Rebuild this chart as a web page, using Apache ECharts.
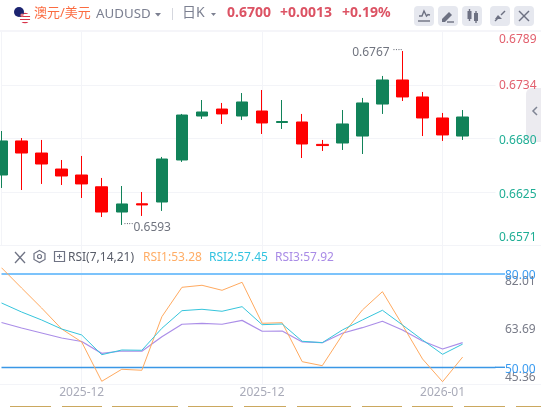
<!DOCTYPE html>
<html><head><meta charset="utf-8">
<style>html,body{margin:0;padding:0;background:#fff}#c{width:541px;height:407px}</style>
<script src="https://cdn.jsdelivr.net/npm/echarts@6/dist/echarts.min.js"></script>
</head><body><div id="c"></div>
<script>
// [open, close, low, high]
const candles = [
 [.66423,.66770,.66291,.66871],[.66770,.66647,.66270,.66800],[.66647,.66535,.66332,.66780],[.66484,.66413,.66321,.66576],
 [.66423,.66332,.66189,.66617],[.66303,.66046,.65995,.66393],[.66046,.66128,.65914,.66311],[.66130,.66118,.66006,.66250],
 [.66148,.66586,.66057,.66607],[.66576,.67034,.66556,.67045],[.67024,.67065,.66994,.67187],[.67095,.67045,.66943,.67157],
 [.67024,.67167,.66983,.67258],[.67075,.66953,.66841,.67289],[.66958,.66968,.66892,.67187],[.66963,.66739,.66596,.67045],
 [.66735,.66723,.66668,.66780],[.66749,.66943,.66678,.67085],[.66820,.67157,.66637,.67208],[.67146,.67391,.67045,.67432],
 [.67391,.67218,.67177,.67686],[.67218,.67004,.66820,.67269],[.67004,.66831,.66770,.67055],[.66820,.67014,.66780,.67085]
];
const rsi1 = [82.01,75.50,69.07,62.32,58.14,45.50,49.36,49.04,66.27,75.72,76.37,74.76,77.33,64.15,64.34,51.80,50.51,60.39,68.42,74.31,63.60,52.67,45.36,53.28];
const rsi2 = [70.68,67.78,65.21,62.32,60.39,54.05,55.56,55.47,62.54,68.20,68.65,68.01,69.49,63.70,63.92,58.36,57.91,61.99,65.21,68.33,63.60,58.78,54.18,57.45];
const rsi3 = [64.41,62.64,61.03,59.42,58.30,54.47,55.24,55.15,59.84,63.83,64.15,63.83,65.09,61.58,61.67,58.14,57.91,60.93,62.73,64.79,61.99,58.46,55.88,57.92];
const dateTickIndex = [4,13,22];
const dateTickLabels = ['2025-12','2025-12','2026-01'];
const priceTicks = [0.6571,0.6625,0.6680,0.6734,0.6789];
const rsiTicks = [45.36,63.69,82.01];
const rsiBands = [50,80];
const lastPrice = 0.6700;
const highIndex = 20, lowIndex = 6;
const highText = '0.6767', lowText = '0.6593';

const FONT = '"Noto Sans","Noto Sans CJK SC",sans-serif';
const withIndex = (arr)=>arr.map((v,i)=>Array.isArray(v)?[i,...v]:[i,v]);
const GRID = '#f3f4f8';
const RED = '#e2606e', GREEN = '#1fae95';
const xBase = {type:'value',min:0,max:24.64,axisLine:{show:false},
  axisTick:{show:false,customValues:dateTickIndex},
  splitLine:{show:true,lineStyle:{color:GRID,width:1}}};
const priceRich = {
  top:{color:RED,fontSize:12,fontFamily:FONT,padding:[3,0,0,0]},
  up:{color:RED,fontSize:12,fontFamily:FONT,padding:[2,0,0,0]},
  dn:{color:GREEN,fontSize:12,fontFamily:FONT,padding:[6,0,0,0]},
  low:{color:GREEN,fontSize:12,fontFamily:FONT,padding:[0,0,1,0]}
};
const priceStyle = (v,i)=> i===0?'low': i===priceTicks.length-1?'top': v>lastPrice?'up':'dn';
const rsiRich = {g:{color:'#787b88',fontSize:12,fontFamily:FONT,padding:[3,0,0,0]},b:{color:'#3a9bf0',fontSize:12,fontFamily:FONT,padding:[4,0,0,0]}};

const chart = echarts.init(document.getElementById('c'),null,{renderer:'canvas'});
const T=(x,y,text,fill,font,align)=>({type:'text',z:20,style:{x,y,text,fill,font:font+' '+FONT,textAlign:align||'left',textVerticalAlign:'middle'}});
const btn=(x)=>({type:'rect',z:20,shape:{x,y:6,width:20,height:20,r:4},style:{fill:'#e6e8ef'}});
const L=(pts,stroke,w)=>({type:'polyline',z:21,shape:{points:pts},style:{stroke:stroke||'#6d7182',lineWidth:w||1.4,fill:null}});
const F=(pts,fill)=>({type:'polygon',z:21,shape:{points:pts},style:{fill:fill||'#6d7182'}});
const stripes=[];for(let i=0;i<7;i++){const c=i%2?'#fff':'#d8344a';stripes.push({offset:i/7,color:c},{offset:(i+1)/7,color:c});}
const dashes=[[10,51],[62,102],[112,178],[188,233],[244,286],[297,351],[362,402],[412,453],[464,505],[516,541]];

chart.setOption({
  animation:false,backgroundColor:'#fff',textStyle:{fontFamily:FONT},
  grid:[{left:1.5,width:494,top:31,height:214},{left:1.5,width:494,top:245,height:139.3}],
  xAxis:[{...xBase,gridIndex:0,axisLabel:{show:false,customValues:dateTickIndex}},
         {...xBase,gridIndex:1,axisLabel:{show:true,customValues:dateTickIndex,color:'#a9abb9',fontSize:12,margin:2,fontFamily:FONT,
           hideOverlap:false,showMinLabel:true,showMaxLabel:true,
           formatter:(v)=>dateTickLabels[dateTickIndex.indexOf(Math.round(v))]||''}}],
  yAxis:[
   {type:'value',gridIndex:0,position:'right',min:0.6571,max:0.6789,
    axisLine:{show:true,lineStyle:{color:GRID}},axisTick:{show:false,customValues:priceTicks},
    splitLine:{show:true,lineStyle:{color:GRID}},
    axisLabel:{customValues:priceTicks,margin:3.5,fontSize:12,fontFamily:FONT,
      verticalAlignMinLabel:'bottom',verticalAlignMaxLabel:'top',showMinLabel:true,showMaxLabel:true,
      rich:priceRich,formatter:(v)=>{const i=priceTicks.findIndex(t=>Math.abs(t-v)<1e-6);return '{'+priceStyle(v,i)+'|'+(+v).toFixed(4)+'}';}}},
   {type:'value',gridIndex:1,position:'right',min:42.2,max:95.37,
    axisLine:{show:false},axisTick:{show:false,customValues:rsiTicks},splitLine:{show:false},
    axisLabel:{customValues:rsiTicks,margin:9.5,fontSize:12,fontFamily:FONT,rich:rsiRich,showMinLabel:true,showMaxLabel:true,formatter:(v)=>'{g|'+(+v).toFixed(2)+'}'}},
   {type:'value',gridIndex:1,position:'right',min:44.53,max:89.32,
    axisLine:{show:false},axisTick:{show:false,customValues:rsiBands},splitLine:{show:false},
    axisLabel:{customValues:rsiBands,margin:9.5,fontSize:12,fontFamily:FONT,rich:rsiRich,showMinLabel:true,showMaxLabel:true,formatter:(v)=>'{b|'+(+v).toFixed(2)+'}'}}
  ],
  series:[
   {type:'candlestick',xAxisIndex:0,yAxisIndex:0,clip:false,barWidth:12,data:withIndex(candles),
    itemStyle:{color:'#118259',borderColor:'#118259',color0:'#fe0000',borderColor0:'#fe0000',borderWidth:1},
    markPoint:{symbol:'circle',symbolSize:0,silent:true,data:[
      {coord:[highIndex,candles[highIndex][3]],label:{show:true,position:'left',distance:0,formatter:'{t|'+highText+'} {d|····}',
        rich:{t:{color:'#70747f',fontSize:12,fontFamily:FONT,padding:[4,0,0,0]},d:{color:'#70747f',fontSize:9,padding:[0,0,1,0]}}}},
      {coord:[lowIndex,candles[lowIndex][2]],label:{show:true,position:'right',distance:2,formatter:'{d|····}{t|'+lowText+'}',
        rich:{t:{color:'#70747f',fontSize:12,fontFamily:FONT,padding:[6,0,0,0]},d:{color:'#70747f',fontSize:9,padding:[0,0,1,0]}}}}
    ]}},
   {name:'RSI1',type:'line',xAxisIndex:1,yAxisIndex:2,clip:false,data:withIndex(rsi1),symbol:'none',lineStyle:{color:'#ffaa60',width:1},z:5},
   {name:'RSI2',type:'line',xAxisIndex:1,yAxisIndex:2,clip:false,data:withIndex(rsi2),symbol:'none',lineStyle:{color:'#36c5dc',width:1},z:6},
   {name:'RSI3',type:'line',xAxisIndex:1,yAxisIndex:2,clip:false,data:withIndex(rsi3),symbol:'none',lineStyle:{color:'#ab8ee8',width:1.2},z:4,
    markLine:{silent:true,symbol:'none',animation:false,label:{show:false},data:[
      {yAxis:rsiBands[1],lineStyle:{color:'#7cc3fb',width:2,type:'solid'}},
      {yAxis:rsiBands[0],lineStyle:{color:'#3a97e6',width:1.4,type:'solid'}}]}}
  ],
  graphic:[
   // header
   {type:'rect',z:1,shape:{x:0,y:30,width:541,height:2},style:{fill:'#f5f5f9'}},
   {type:'rect',z:1,shape:{x:0,y:245,width:541,height:1},style:{fill:GRID}},
   {type:'rect',z:1,shape:{x:0,y:384,width:541,height:1},style:{fill:GRID}},
   {type:'circle',z:20,shape:{cx:25,cy:18,r:5.3},style:{fill:new echarts.graphic.LinearGradient(0,0,0,1,stripes)}},
   {type:'circle',z:21,shape:{cx:19,cy:12,r:5},style:{fill:'#1c2470'}},
   {type:'circle',z:22,shape:{cx:22,cy:15,r:1.6},style:{fill:'#e8808c'}},
   T(34,13,'澳元/美元','#fb6b40','13px'),
   T(96,14.5,'AUDUSD','#7c8091','13.3px'),
   F([[155,13],[161,13],[158,16.5]],'#7c8091'),
   {type:'rect',z:20,shape:{x:172,y:8,width:1,height:12},style:{fill:'#d5d7de'}},
   T(182,13,'日K','#7c8091','14px'),
   F([[211,13],[216,13],[213.5,16]],'#7c8091'),
   T(227,13,'0.6700','#dc5364','bold 14px'),
   T(280,13,'+0.0013','#dc5364','bold 14px'),
   T(342,13,'+0.19%','#dc5364','bold 14px'),
   btn(414),btn(438),btn(462),btn(490),btn(514),
   L([[419,16],[422,16],[424,11],[426.5,16],[428,14.5],[430,15]]),L([[418,21],[430,21]]),
   F([[442,19],[449,12],[452,15],[445,22],[442,22]]),L([[447,22],[454,22]]),
   {type:'rect',z:21,shape:{x:467.5,y:11,width:4,height:8},style:{fill:'#6d7182'}},L([[469.5,9],[469.5,21]]),
   {type:'rect',z:21,shape:{x:474,y:13,width:4,height:8},style:{fill:'#6d7182'}},L([[476,11],[476,23]]),
   L([[495,21],[499,17]]),F([[498,15],[502,19],[495,19]]),L([[505,11],[501,15]]),
   L([[519,11],[529,21]]),L([[529,11],[519,21]]),
   // right tab
   {type:'rect',z:0,shape:{x:526,y:88,width:15,height:54,r:[6,0,0,6]},style:{fill:'#ecebf0'}},
   L([[537,107],[533,111],[537,115]],'#7f8494',1.5),
   // RSI header
   L([[15,252],[25,263]],'#6f7384',1.3),L([[25,252],[15,263]],'#6f7384',1.3),
   {type:'polygon',z:21,shape:{points:[[39.5,250.5],[45,253.5],[45,259.5],[39.5,262.5],[34,259.5],[34,253.5]]},style:{fill:null,stroke:'#6f7384',lineWidth:1.2}},
   {type:'circle',z:21,shape:{cx:39.5,cy:256.5,r:2},style:{fill:null,stroke:'#6f7384',lineWidth:1.2}},
   {type:'rect',z:21,shape:{x:54.5,y:251.5,width:10,height:10},style:{fill:null,stroke:'#6f7384',lineWidth:1.2}},
   L([[57,256.5],[62,256.5]],'#6f7384',1.1),L([[59.5,254],[59.5,259]],'#6f7384',1.1),
   T(68,257.5,'RSI(7,14,21)','#585c68','12px'),
   T(143,257.5,'RSI1:53.28','#ffad66','12px'),
   T(209,257.5,'RSI2:57.45','#33c3e0','12px'),
   T(275,257.5,'RSI3:57.92','#a98be6','12px'),
   // cut-off buttons at the bottom edge
   ...dashes.map(d=>({type:'rect',z:20,shape:{x:d[0],y:406,width:d[1]-d[0],height:1},style:{fill:'#cba85f'}}))
  ]
});
// extend the RSI band lines to their labels
const stub = rsiBands.map((v,i)=>{
  const y = chart.convertToPixel({yAxisIndex:2},v);
  return {type:'rect',z:3,shape:{x:495,y:y-(i?1:0.7),width:10,height:i?2:1.4},style:{fill:i?'#7cc3fb':'#3a97e6'}};
});
chart.setOption({graphic:stub.map((s,i)=>({...s,id:'stub'+i}))});
</script></body></html>
